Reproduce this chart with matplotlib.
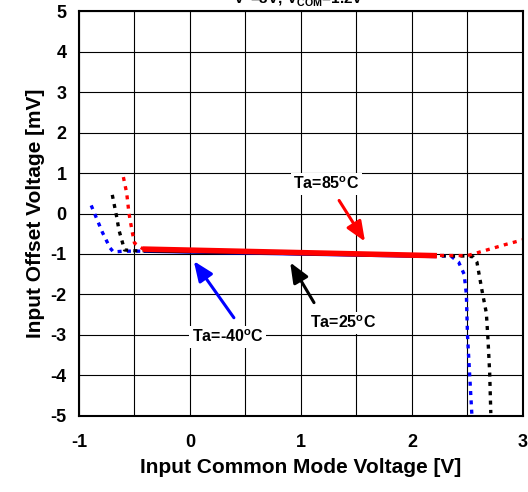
import numpy as np
import matplotlib.pyplot as plt

plt.rcParams['font.family'] = ['Liberation Sans', 'DejaVu Sans']
plt.rcParams['font.weight'] = 'bold'
plt.rcParams['axes.unicode_minus'] = False

# solid part (measured region)
solid_x = [-0.40, 2.20]
red_solid_y = [-0.88, -1.04]
blk_solid_y = [-0.92, -1.05]
blu_solid_y = [-0.93, -1.06]

# dotted tails, left side
red_left_x = [-0.60, -0.57, -0.55, -0.52, -0.50, -0.42, -0.35]
red_left_y = [0.90, 0.50, 0.01, -0.46, -0.73, -0.88, -0.89]
blk_left_x = [-0.70, -0.66, -0.64, -0.61, -0.59, -0.50, -0.40]
blk_left_y = [0.46, -0.09, -0.41, -0.70, -0.90, -0.92, -0.92]
blu_left_x = [-0.89, -0.79, -0.72, -0.69, -0.60, -0.40]
blu_left_y = [0.20, -0.46, -0.85, -0.95, -0.93, -0.93]

# dotted tails, right side
red_right_x = [2.00, 2.50, 2.70, 2.85, 3.00]
red_right_y = [-1.03, -1.04, -0.88, -0.76, -0.65]
blk_right_x = [2.10, 2.50, 2.55, 2.585, 2.63, 2.67, 2.685, 2.70, 2.71]
blk_right_y = [-1.04, -1.05, -1.07, -1.20, -1.89, -2.46, -3.12, -3.94, -4.93]
blu_right_x = [2.10, 2.35, 2.42, 2.47, 2.49, 2.50, 2.52, 2.54]
blu_right_y = [-1.04, -1.05, -1.20, -1.50, -2.00, -3.00, -4.00, -5.00]

fig = plt.figure(figsize=(5.28, 4.92), dpi=100)
ax = fig.add_axes([0.1496, 0.1545, 0.8409, 0.8231])

dot = (0, (1.2, 1.6))
ax.plot(blu_left_x, blu_left_y, color='#0000FF', lw=2.4, ls=dot)
ax.plot(blk_left_x, blk_left_y, color='black', lw=2.4, ls=dot)
ax.plot(red_left_x, red_left_y, color='#FF0000', lw=2.4, ls=dot)
ax.plot(blu_right_x, blu_right_y, color='#0000FF', lw=2.4, ls=dot)
ax.plot(blk_right_x, blk_right_y, color='black', lw=2.4, ls=dot)
ax.plot(red_right_x, red_right_y, color='#FF0000', lw=2.4, ls=dot)

ax.plot(solid_x, blu_solid_y, color='#0000FF', lw=2.5)
ax.plot(solid_x, blk_solid_y, color='black', lw=2.5)
ax.plot(solid_x, red_solid_y, color='#FF0000', lw=4)

ax.set_xlim(-1, 3)
ax.set_ylim(-5, 5)
ax.set_xticks([-1, 0, 1, 2, 3])
ax.set_xticks(np.arange(-1, 3.01, 0.5), minor=True)
ax.set_yticks(np.arange(-5, 6, 1))
ax.grid(True, which='both', color='black', lw=0.8)
ax.tick_params(which='both', length=0, labelsize=13, pad=9)
ax.tick_params(axis='x', pad=13)
for lab in ax.get_xticklabels() + ax.get_yticklabels():
    lab.set_fontweight('bold')
for s in ax.spines.values():
    s.set_linewidth(1.5)

ax.set_xlabel('Input Common Mode Voltage [V]', fontsize=15, fontweight='bold', labelpad=5)
ax.set_ylabel('Input Offset Voltage [mV]', fontsize=15, fontweight='bold', labelpad=4)

box = dict(facecolor='white', edgecolor='none', pad=2)
arrow = '-|>,head_length=1.2,head_width=0.5'
ax.annotate('', xy=(1.59, -0.75), xytext=(1.33, 0.38),
            arrowprops=dict(arrowstyle=arrow, color='#FF0000', lw=2.2))
ax.annotate('', xy=(0.02, -1.12), xytext=(0.41, -2.63),
            arrowprops=dict(arrowstyle=arrow, color='#0000FF', lw=2.2))
ax.annotate('', xy=(0.89, -1.15), xytext=(1.13, -2.26),
            arrowprops=dict(arrowstyle=arrow, color='black', lw=2.2))
ax.text(1.23, 0.73, 'Ta=85$^\\mathregular{o}$C', ha='center', va='center', fontsize=11.5, fontweight='bold', bbox=box)
ax.text(0.34, -3.05, 'Ta=-40$^\\mathregular{o}$C', ha='center', va='center', fontsize=11.5, fontweight='bold', bbox=box)
ax.text(1.38, -2.70, 'Ta=25$^\\mathregular{o}$C', ha='center', va='center', fontsize=11.5, fontweight='bold', bbox=box)

fig.text(0.565, 0.993, 'V$^\\mathregular{+}$=3V, V$_\\mathregular{COM}$=1.2V', ha='center', va='baseline',
         fontsize=11, fontweight='bold')

fig.savefig('out.png', dpi=100)
